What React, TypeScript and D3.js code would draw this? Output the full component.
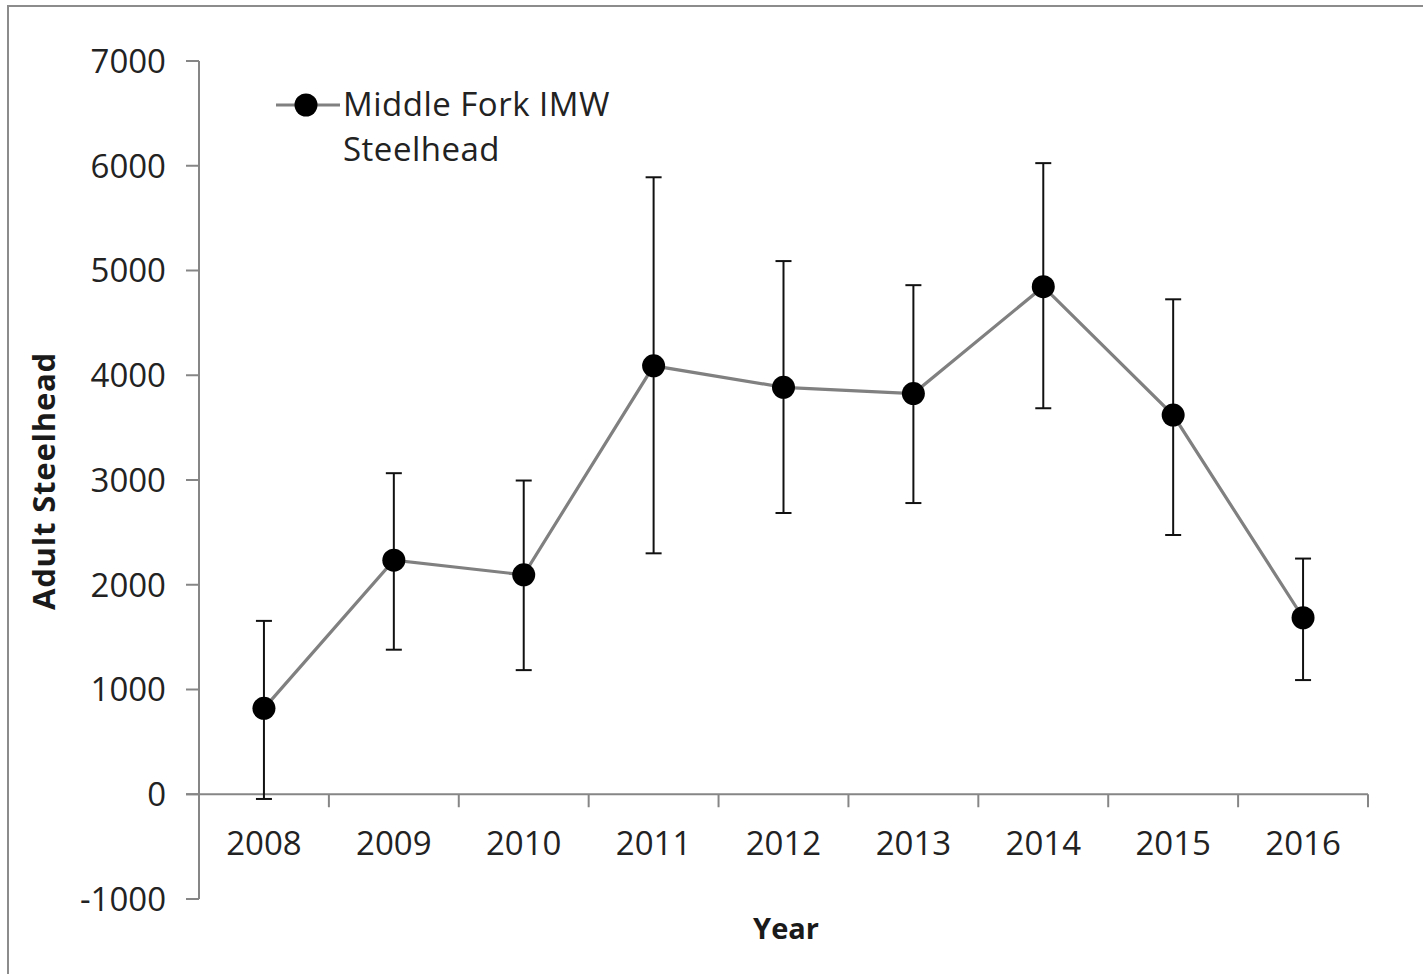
import React from 'react';
import * as d3 from 'd3';

const years = ['2008', '2009', '2010', '2011', '2012', '2013', '2014', '2015', '2016'];
const estimates = [820, 2235, 2095, 4090, 3885, 3825, 4845, 3620, 1685];
const upper = [1655, 3065, 2995, 5890, 5090, 4860, 6025, 4725, 2250];
const lower = [-45, 1380, 1185, 2300, 2685, 2780, 3685, 2475, 1090];
const yTicks = [-1000, 0, 1000, 2000, 3000, 4000, 5000, 6000, 7000];

const FONT = '"Open Sans", sans-serif';

const App = () => {
  const width = 1423;
  const height = 974;

  const x = d3.scaleBand().domain(years).range([199, 1368]);
  const y = d3.scaleLinear().domain([-1000, 7000]).range([899, 61]);
  const cx = (d: string) => (x(d) as number) + x.bandwidth() / 2;

  const line = d3.line<number>()
    .x((_, i) => cx(years[i]))
    .y(d => y(d));

  const axisGrey = '#868686';
  const boundaries = d3.range(years.length + 1).map(i => 199 + i * x.bandwidth());

  return (
    <svg width={width} height={height} style={{ position: 'absolute', left: 0, top: 0, background: '#fff' }}>
      {/* outer frame */}
      <rect x={8} y={6} width={width + 20} height={height + 20} fill="#fff" stroke="#8c8c8c" strokeWidth={2} />

      {/* y axis */}
      <line x1={199} x2={199} y1={y(7000)} y2={y(-1000)} stroke={axisGrey} strokeWidth={2} />
      {yTicks.map(t => (
        <g key={t}>
          <line x1={186} x2={199} y1={y(t)} y2={y(t)} stroke={axisGrey} strokeWidth={2} />
          <text x={166} y={y(t)} dy="0.36em" textAnchor="end" fontFamily={FONT} fontSize={33} fill="#222">{t}</text>
        </g>
      ))}

      {/* x axis at zero */}
      <line x1={186} x2={1368} y1={y(0)} y2={y(0)} stroke={axisGrey} strokeWidth={2} />
      {boundaries.slice(1).map((b, i) => (
        <line key={i} x1={b} x2={b} y1={y(0)} y2={y(0) + 13} stroke={axisGrey} strokeWidth={2} />
      ))}
      {years.map(d => (
        <text key={d} x={cx(d)} y={855} textAnchor="middle" fontFamily={FONT} fontSize={33} fill="#222">{d}</text>
      ))}

      {/* axis titles */}
      <text x={786} y={939} textAnchor="middle" fontFamily={FONT} fontWeight="bold" fontSize={29} fill="#1a1a1a">Year</text>
      <text transform="translate(55,481) rotate(-90)" textAnchor="middle" fontFamily={FONT} fontWeight="bold" fontSize={31} letterSpacing={0.8} fill="#1a1a1a">Adult Steelhead</text>

      {/* series line */}
      <path d={line(estimates) || ''} fill="none" stroke="#808080" strokeWidth={3.2} />

      {/* error bars */}
      {years.map((d, i) => (
        <g key={d} stroke="#111" strokeWidth={2}>
          <line x1={cx(d)} x2={cx(d)} y1={y(upper[i])} y2={y(lower[i])} />
          <line x1={cx(d) - 8} x2={cx(d) + 8} y1={y(upper[i])} y2={y(upper[i])} />
          <line x1={cx(d) - 8} x2={cx(d) + 8} y1={y(lower[i])} y2={y(lower[i])} />
        </g>
      ))}

      {/* markers */}
      {years.map((d, i) => (
        <circle key={d} cx={cx(d)} cy={y(estimates[i])} r={11.5} fill="#000" />
      ))}

      {/* legend */}
      <line x1={276} x2={340} y1={105} y2={105} stroke="#808080" strokeWidth={3.2} />
      <circle cx={306} cy={105} r={11.5} fill="#000" />
      <text x={343} y={116} fontFamily={FONT} fontSize={33} letterSpacing={0.5} fill="#222">Middle Fork IMW</text>
      <text x={343} y={161} fontFamily={FONT} fontSize={33} letterSpacing={0.5} fill="#222">Steelhead</text>
    </svg>
  );
};

export default App;
